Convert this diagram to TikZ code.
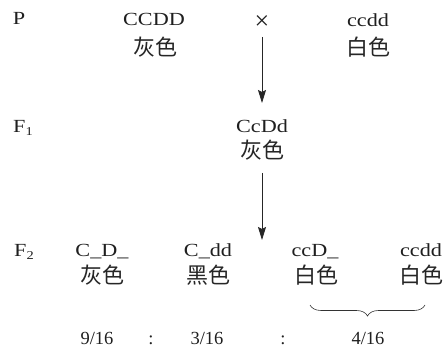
\documentclass[tikz,border=0pt]{standalone}
\usepackage{fontspec}
\setmainfont[FakeStretch=1.2]{Liberation Serif}
\newfontfamily\numfont{Liberation Serif}
\newfontfamily\cjk{Noto Sans CJK SC}
\usetikzlibrary{arrows.meta,decorations.pathreplacing}
% lowered index for generation labels
\newcommand\lowidx[1]{\raisebox{-0.3ex}{\fontsize{12}{12}\selectfont #1}}
\begin{document}
\begin{tikzpicture}[x=1pt,y=-1pt,
  lat/.style={inner sep=0pt, anchor=base, font=\fontsize{18.5}{18.5}\selectfont, text=black!88},
  num/.style={inner sep=0pt, anchor=base, font=\numfont\fontsize{18.5}{18.5}\selectfont, text=black!88},
  han/.style={inner sep=0pt, font=\cjk\fontsize{22}{22}\selectfont, text=black!85},
  arr/.style={-{Stealth[length=13pt,width=8pt,inset=2pt]}, line width=0.8pt, draw=black!85},
  brc/.style={decorate, decoration={brace, mirror, amplitude=11pt}, line width=0.6pt, draw=black!80}]
\useasboundingbox (0,0) rectangle (445,350);

% parents
\node[lat] (pl) at (19,25) {P};
\node[lat] (pg) at (154,26) {CCDD};
\node[han] (pc) at (155,47) {灰色};
\node[lat, anchor=center, font=\numfont\fontsize{26}{26}\selectfont] (cross) at (262,23) {×};
\node[lat] (qg) at (368,27) {ccdd};
\node[han] (qc) at (368,47) {白色};

% first filial generation
\node[lat] (f1l) at (23,133) {F\lowidx{1}};
\node[lat] (f1g) at (262,133) {CcDd};
\node[han] (f1c) at (262,150) {灰色};

% second filial generation
\node[lat] (f2l) at (24,257) {F\lowidx{2}};
\node[lat] (g1) at (102,257) {C\_D\_};
\node[han] (c1) at (102,275) {灰色};
\node[lat] (g2) at (208,257) {C\_dd};
\node[han] (c2) at (208,275) {黑色};
\node[lat] (g3) at (315,257) {ccD\_};
\node[han] (c3) at (316,275) {白色};
\node[lat] (g4) at (421,257) {ccdd};
\node[han] (c4) at (421,275) {白色};

% ratios
\node[num] (r1) at (97,344) {9/16};
\node[num] (s1) at (151,344) {:};
\node[num] (r2) at (207,344) {3/16};
\node[num] (s2) at (283,344) {:};
\node[num] (r3) at (368,344) {4/16};

% crosses
\coordinate (f2t) at (262,240);
\draw[arr, shorten <=14pt, shorten >=30pt] (cross.center) -- (f1g.base);
\draw[arr, shorten <=23pt] (f1c.center) -- (f2t);

% white classes grouped
\coordinate (bl) at (310,305);
\coordinate (br) at (425,305);
\draw[brc] (bl) -- (br);
\end{tikzpicture}
\end{document}
